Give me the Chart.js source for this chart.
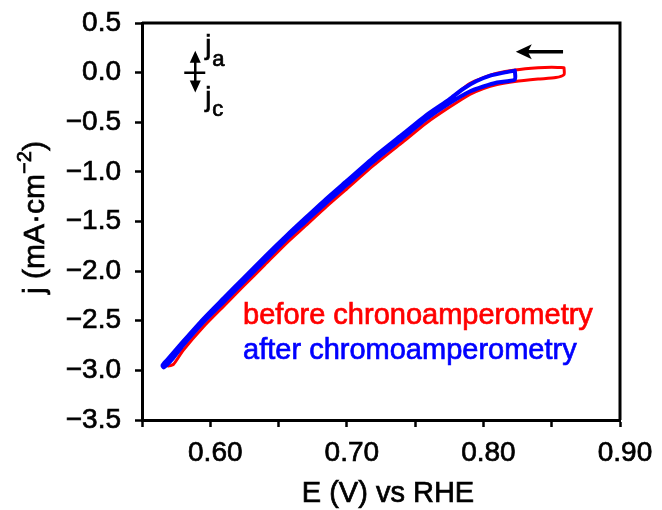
<!DOCTYPE html>
<html>
<head>
<meta charset="utf-8">
<script src="https://cdn.jsdelivr.net/npm/chart.js@4"></script>
<style>
  html, body { margin: 0; padding: 0; background: #fff; }
  #wrap { width: 662px; height: 510px; }
</style>
</head>
<body>
<div id="wrap"><canvas id="cv" width="662" height="510"></canvas></div>
<script>
// ------------------------------------------------------------
// data - each series is one closed CV loop
// ------------------------------------------------------------
const redE = [0.859, 0.85, 0.84, 0.823, 0.81, 0.80, 0.79, 0.775, 0.758, 0.74, 0.72, 0.70, 0.685, 0.67, 0.656, 0.64, 0.624, 0.61, 0.595, 0.58, 0.568, 0.569, 0.573, 0.58, 0.595, 0.61, 0.624, 0.64, 0.656, 0.67, 0.685, 0.70, 0.72, 0.74, 0.758, 0.775, 0.79, 0.80, 0.81, 0.823, 0.84, 0.853, 0.859, 0.859];
const redJ = [0.05, 0.055, 0.05, 0.027, -0.005, -0.05, -0.11, -0.27, -0.44, -0.64, -0.86, -1.10, -1.28, -1.47, -1.65, -1.87, -2.09, -2.285, -2.49, -2.72, -2.91, -2.955, -2.94, -2.80, -2.56, -2.35, -2.155, -1.935, -1.715, -1.54, -1.35, -1.17, -0.93, -0.71, -0.51, -0.35, -0.22, -0.16, -0.12, -0.09, -0.065, -0.05, -0.02, 0.05];

const blueE = [0.823, 0.815, 0.805, 0.795, 0.785, 0.775, 0.758, 0.74, 0.72, 0.70, 0.685, 0.67, 0.656, 0.64, 0.624, 0.61, 0.595, 0.58, 0.568, 0.565, 0.566, 0.572, 0.58, 0.595, 0.61, 0.624, 0.64, 0.656, 0.67, 0.685, 0.70, 0.72, 0.74, 0.758, 0.775, 0.79, 0.80, 0.81, 0.823, 0.823];
const blueJ = [0.02, 0.0, -0.03, -0.085, -0.165, -0.27, -0.43, -0.63, -0.85, -1.09, -1.27, -1.46, -1.64, -1.855, -2.075, -2.27, -2.48, -2.71, -2.90, -2.95, -2.97, -2.89, -2.75, -2.515, -2.31, -2.115, -1.895, -1.675, -1.50, -1.31, -1.13, -0.89, -0.67, -0.47, -0.31, -0.19, -0.14, -0.10, -0.07, 0.02];

const legendLabels = ['before chronoamperometry', 'after chromoamperometry'];
const legendAt = { e: 0.624, j: [-2.53, -2.89] };
const scanArrow = { from: 0.8583, to: 0.8237, j: 0.21 };
const jMarker = { e: 0.589, top: 0.22, bottom: -0.20 };

const xMin = 0.55, xMax = 0.90, xStep = 0.05;
const yMin = -3.5, yMax = 0.5, yStep = 0.5;

const RED = '#ff0000';
const BLUE = '#0000ff';
const FONT = "'Liberation Sans', Arial, sans-serif";
const TEXT_STROKE = 0.7;

Chart.defaults.font.family = FONT;
Chart.defaults.color = '#000';

function pts(xs, ys) { return xs.map((x, i) => ({ x: x, y: ys[i] })); }

// filled text with a thin outline, so it looks as heavy as the original
function heavyText(ctx, str, x, y, color) {
    ctx.fillStyle = color;
    ctx.strokeStyle = color;
    ctx.lineWidth = TEXT_STROKE;
    ctx.fillText(str, x, y);
    ctx.strokeText(str, x, y);
}

// ------------------------------------------------------------
// extras: frame, titles, annotations
// ------------------------------------------------------------
const extras = {
    id: 'extras',
    afterDraw(chart) {
        const ctx = chart.ctx, a = chart.chartArea;
        const sx = chart.scales.x, sy = chart.scales.y;
        ctx.save();

        // top + right frame
        ctx.strokeStyle = '#000';
        ctx.lineWidth = 3;
        ctx.beginPath();
        ctx.moveTo(a.left, a.top);
        ctx.lineTo(a.right, a.top);
        ctx.lineTo(a.right, a.bottom);
        ctx.stroke();

        // x title
        ctx.font = '29px ' + FONT;
        ctx.textAlign = 'center';
        ctx.textBaseline = 'alphabetic';
        heavyText(ctx, 'E (V) vs RHE', (a.left + a.right) / 2 + 7, a.bottom + 82, '#000');

        // y title with superscript
        ctx.save();
        ctx.translate(44, (a.top + a.bottom) / 2 - 4);
        ctx.rotate(-Math.PI / 2);
        ctx.textAlign = 'left';
        const p1 = 'j (mA\u00b7cm', p2 = '\u22122', p3 = ')';
        ctx.font = '30px ' + FONT;
        const w1 = ctx.measureText(p1).width, w3 = ctx.measureText(p3).width;
        ctx.font = '20px ' + FONT;
        const w2 = ctx.measureText(p2).width;
        let x0 = -(w1 + w2 + w3) / 2;
        ctx.font = '30px ' + FONT;
        heavyText(ctx, p1, x0, 0, '#000');
        ctx.font = '20px ' + FONT;
        heavyText(ctx, p2, x0 + w1, -13, '#000');
        ctx.font = '30px ' + FONT;
        heavyText(ctx, p3, x0 + w1 + w2, 0, '#000');
        ctx.restore();

        // legend text
        ctx.font = '29px ' + FONT;
        ctx.textAlign = 'left';
        heavyText(ctx, legendLabels[0], sx.getPixelForValue(legendAt.e), sy.getPixelForValue(legendAt.j[0]), RED);
        heavyText(ctx, legendLabels[1], sx.getPixelForValue(legendAt.e), sy.getPixelForValue(legendAt.j[1]), BLUE);

        // scan direction arrow
        ctx.fillStyle = '#000';
        ctx.strokeStyle = '#000';
        const ax1 = sx.getPixelForValue(scanArrow.from), ax2 = sx.getPixelForValue(scanArrow.to);
        const ay = sy.getPixelForValue(scanArrow.j);
        ctx.lineWidth = 3.5;
        ctx.beginPath();
        ctx.moveTo(ax1, ay);
        ctx.lineTo(ax2 + 10, ay);
        ctx.stroke();
        ctx.beginPath();
        ctx.moveTo(ax2, ay);
        ctx.lineTo(ax2 + 16, ay - 7.5);
        ctx.lineTo(ax2 + 12, ay);
        ctx.lineTo(ax2 + 16, ay + 7.5);
        ctx.closePath();
        ctx.fill();

        // ja / jc marker
        const mx = sx.getPixelForValue(jMarker.e);
        const my0 = sy.getPixelForValue(0);
        const myT = sy.getPixelForValue(jMarker.top), myB = sy.getPixelForValue(jMarker.bottom);
        ctx.lineWidth = 2.5;
        ctx.beginPath();
        ctx.moveTo(mx, myT + 8); ctx.lineTo(mx, myB - 8);
        ctx.moveTo(mx - 11, my0); ctx.lineTo(mx + 10, my0);
        ctx.stroke();
        ctx.beginPath();
        ctx.moveTo(mx, myT); ctx.lineTo(mx - 5.5, myT + 12); ctx.lineTo(mx + 5.5, myT + 12); ctx.closePath();
        ctx.moveTo(mx, myB); ctx.lineTo(mx - 5.5, myB - 12); ctx.lineTo(mx + 5.5, myB - 12); ctx.closePath();
        ctx.fill();

        ctx.textAlign = 'left';
        ctx.font = '27px ' + FONT;
        heavyText(ctx, 'j', mx + 10, my0 - 19, '#000');
        heavyText(ctx, 'j', mx + 10, my0 + 33, '#000');
        ctx.font = '22px ' + FONT;
        heavyText(ctx, 'a', mx + 17, my0 - 7, '#000');
        heavyText(ctx, 'c', mx + 17, my0 + 43, '#000');

        ctx.restore();
    }
};

new Chart(document.getElementById('cv').getContext('2d'), {
    type: 'scatter',
    data: {
        datasets: [
            {
                label: legendLabels[1],
                data: pts(blueE, blueJ),
                showLine: true,
                borderColor: BLUE,
                borderWidth: 4,
                borderCapStyle: 'round',
                borderJoinStyle: 'round',
                pointRadius: 0,
                tension: 0.2
            },
            {
                label: legendLabels[0],
                data: pts(redE, redJ),
                showLine: true,
                borderColor: RED,
                borderWidth: 3,
                borderCapStyle: 'round',
                borderJoinStyle: 'round',
                pointRadius: 0,
                tension: 0.2
            }
        ]
    },
    options: {
        responsive: false,
        animation: false,
        devicePixelRatio: 1,
        layout: { padding: { left: 0, top: 23, right: 42, bottom: 0 } },
        plugins: { legend: { display: false }, tooltip: { enabled: false } },
        scales: {
            x: {
                type: 'linear',
                min: xMin, max: xMax,
                afterFit: s => { s.height = 90; s.paddingLeft = 0; s.paddingRight = 0; },
                border: { display: true, color: '#000', width: 3 },
                grid: { drawOnChartArea: false, drawTicks: true, tickLength: 7, tickWidth: 2.5, tickColor: '#000' },
                ticks: {
                    stepSize: xStep,
                    padding: 9,
                    labelOffset: 5,
                    font: { size: 28 },
                    color: '#000',
                    textStrokeColor: '#000',
                    textStrokeWidth: TEXT_STROKE,
                    maxRotation: 0,
                    autoSkip: false,
                    callback: v => (Math.round(v * 100) % 10 === 0 ? v.toFixed(2) : '')
                }
            },
            y: {
                type: 'linear',
                min: yMin, max: yMax,
                afterFit: s => { s.width = 142; s.paddingTop = 0; s.paddingBottom = 0; },
                border: { display: true, color: '#000', width: 3 },
                grid: { drawOnChartArea: false, drawTicks: true, tickLength: 7, tickWidth: 2.5, tickColor: '#000' },
                ticks: {
                    stepSize: yStep,
                    padding: 14,
                    font: { size: 28 },
                    color: '#000',
                    textStrokeColor: '#000',
                    textStrokeWidth: TEXT_STROKE,
                    autoSkip: false,
                    callback: v => v.toFixed(1).replace('-', '\u2212')
                }
            }
        }
    },
    plugins: [extras]
});
</script>
</body>
</html>
